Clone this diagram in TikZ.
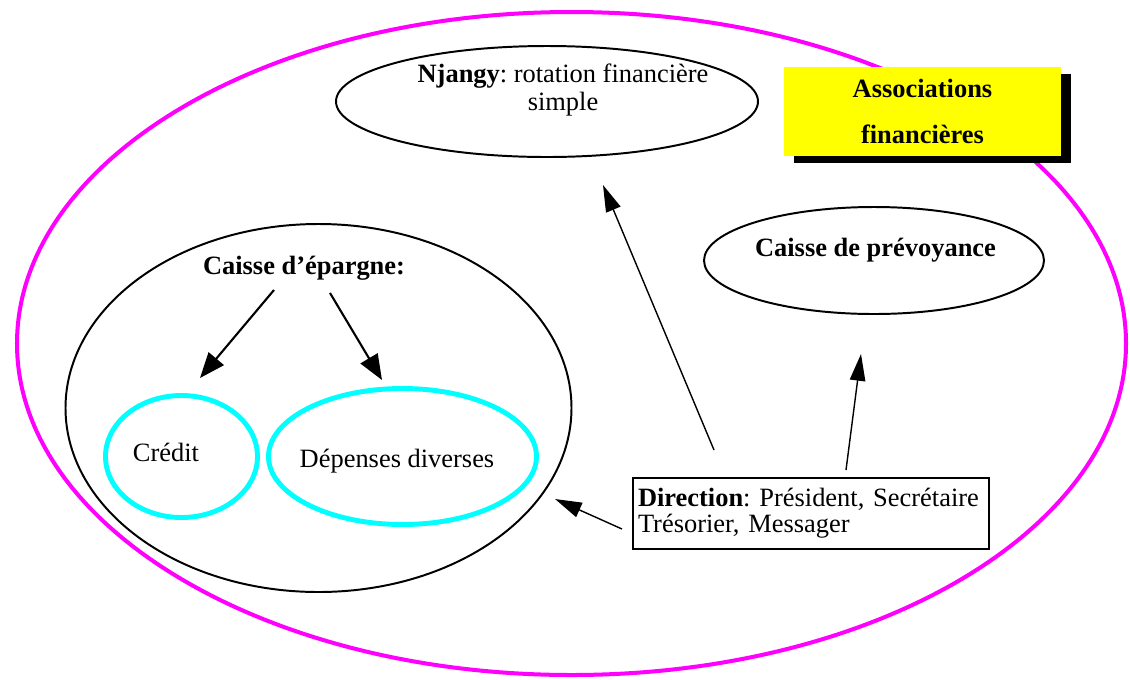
\documentclass[tikz,border=0pt]{standalone}
\usepackage{fontspec}
\setmainfont{Liberation Serif}
\usetikzlibrary{shapes.geometric,arrows.meta,shadows}

\definecolor{ringmagenta}{RGB}{255,0,255}
\definecolor{ringcyan}{RGB}{0,255,255}
\definecolor{boxyellow}{RGB}{255,255,0}

\newcommand{\pxu}{0.025cm}
\frenchspacing

\begin{document}
\begin{tikzpicture}[
    x=0.025cm, y=-0.025cm,
    font=\fontsize{18.8}{20}\selectfont,
    outer/.style={
        ellipse,
        draw=ringmagenta,
        line width=2.85pt,
        inner sep=0pt
    },
    oval/.style={
        ellipse,
        draw,
        line width=1.4pt,
        inner sep=0pt
    },
    suboval/.style={
        ellipse,
        draw=ringcyan,
        line width=3.5pt,
        inner sep=0pt
    },
    titlebox/.style={
        rectangle,
        fill=boxyellow,
        inner sep=0pt,
        align=center,
        minimum width=277*\pxu,
        minimum height=89*\pxu,
        font=\bfseries\fontsize{18.8}{32.7}\selectfont,
        drop shadow={shadow xshift=0.25cm, shadow yshift=-0.175cm, fill=black, opacity=1}
    },
    dirbox/.style={
        rectangle,
        draw,
        line width=1.4pt,
        align=left,
        text width=346*\pxu,
        inner xsep=5*\pxu,
        minimum height=71*\pxu,
        font=\fontsize{18.8}{18.5}\selectfont
    },
    txt/.style={
        inner sep=0pt,
        align=center
    },
    dirline/.style={
        draw,
        line width=1pt,
        -{Triangle[length=19pt,width=11pt]}
    },
    splitline/.style={
        draw,
        line width=1.5pt,
        -{Triangle[length=18pt,width=14pt]}
    }
]
\useasboundingbox (0,0) rectangle (1130,679);

% Nodes
\node [outer, minimum width=1109*\pxu, minimum height=663*\pxu] (assoc) at (571.5,343.5) {};

\node [oval, minimum width=422*\pxu, minimum height=111*\pxu] (njangy) at (547,101.5) {};
\node [txt] (njangytext) at (563,90) {\textbf{Njangy}: rotation financière\\simple};

\node [titlebox] (title) at (922.5,111.5) {Associations\\financières};

\node [oval, minimum width=340*\pxu, minimum height=107*\pxu] (prevoyance) at (874,260.5) {};
\node [txt] (prevoyancetext) at (875.5,250) {\textbf{Caisse de prévoyance}};

\node [oval, minimum width=506*\pxu, minimum height=368*\pxu] (epargne) at (318.5,408) {};
\node [txt] (epargnetext) at (304,268) {\textbf{Caisse d’épargne:}};

\node [suboval, minimum width=152*\pxu, minimum height=122*\pxu] (credit) at (181.5,456.5) {};
\node [txt] (credittext) at (166,452) {Crédit};

\node [suboval, minimum width=268*\pxu, minimum height=136*\pxu] (depenses) at (402.5,456.5) {};
\node [txt] (depensestext) at (397,461) {Dépenses diverses};

\node [dirbox] (direction) at (811,513.5) {\textbf{Direction}: Président, Secrétaire\\Trésorier, Messager};

% Arrow ends
\coordinate (fromCredit) at (274,290);
\coordinate (toCredit) at (200,378);
\coordinate (fromDepenses) at (330,293);
\coordinate (toDepenses) at (382,380);
\coordinate (fromNjangy) at (714,450);
\coordinate (toNjangy) at (603,185);
\coordinate (fromPrev) at (846,470);
\coordinate (toPrev) at (861,354);
\coordinate (fromEpargne) at (622,529);
\coordinate (toEpargne) at (555,499);

% Paths
\path [splitline] (fromCredit) -- (toCredit);
\path [splitline] (fromDepenses) -- (toDepenses);

\path [dirline] (fromNjangy) -- (toNjangy);
\path [dirline] (fromPrev) -- (toPrev);
\path [dirline] (fromEpargne) -- (toEpargne);

\end{tikzpicture}
\end{document}
